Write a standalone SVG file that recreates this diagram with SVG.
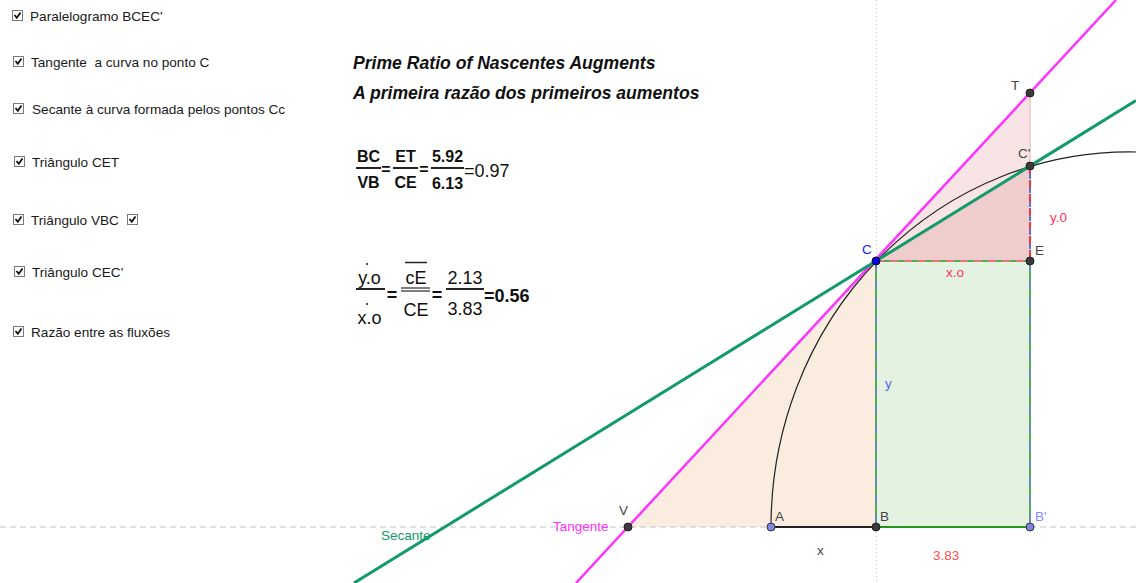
<svg xmlns="http://www.w3.org/2000/svg" width="1136" height="583" viewBox="0 0 1136 583">
<style>
.ui{font-family:"Liberation Sans",Arial,sans-serif;font-size:13.6px;fill:#1a1a1a;white-space:pre}
.cb{fill:#fff;stroke:#7a7a7a;stroke-width:1}
.ck{fill:none;stroke:#111;stroke-width:1.8}
.title{font-family:"Liberation Sans",Arial,sans-serif;font-size:17.6px;font-weight:bold;font-style:italic;fill:#111}
.fb{font-family:"Liberation Sans",Arial,sans-serif;font-size:16px;font-weight:bold;fill:#111}
.f2{font-family:"Liberation Sans",Arial,sans-serif;font-size:18px;fill:#111}
.lbl{font-family:"Liberation Sans",Arial,sans-serif;font-size:13.5px;fill:#444}
.pt{fill:#3a3a3a;stroke:#222;stroke-width:1}
.ptb{fill:#7b86e6;stroke:#333;stroke-width:1}
.bar{stroke:#222;stroke-width:2}
</style>
<rect width="1136" height="583" fill="#fff"/>

<!-- checkboxes -->
<g id="cb1"><rect class="cb" x="12.5" y="10.5" width="10" height="10"/><path class="ck" d="M14.5 15 L16.8 17.8 L20.5 12.5"/><text class="ui" x="30" y="21">Paralelogramo BCEC'</text></g>
<g id="cb2"><rect class="cb" x="13.5" y="56.5" width="10" height="10"/><path class="ck" d="M15.5 61 L17.8 63.8 L21.5 58.5"/><text class="ui" x="31" y="67" xml:space="preserve">Tangente  a curva no ponto C</text></g>
<g id="cb3"><rect class="cb" x="13.5" y="103.5" width="10" height="10"/><path class="ck" d="M15.5 108 L17.8 110.8 L21.5 105.5"/><text class="ui" x="32" y="114">Secante à curva formada pelos pontos Cc</text></g>
<g id="cb4"><rect class="cb" x="14.5" y="156.5" width="10" height="10"/><path class="ck" d="M16.5 161 L18.8 163.8 L22.5 158.5"/><text class="ui" x="32" y="167">Triângulo CET</text></g>
<g id="cb5"><rect class="cb" x="13.5" y="214.5" width="10" height="10"/><path class="ck" d="M15.5 219 L17.8 221.8 L21.5 216.5"/><text class="ui" x="31" y="225">Triângulo VBC</text>
<rect class="cb" x="127.5" y="214.5" width="10" height="10"/><path class="ck" d="M129.5 219 L131.8 221.8 L135.5 216.5"/></g>
<g id="cb6"><rect class="cb" x="14.5" y="266.5" width="10" height="10"/><path class="ck" d="M16.5 271 L18.8 273.8 L22.5 268.5"/><text class="ui" x="32" y="277">Triângulo CEC'</text></g>
<g id="cb7"><rect class="cb" x="13.5" y="326.5" width="10" height="10"/><path class="ck" d="M15.5 331 L17.8 333.8 L21.5 328.5"/><text class="ui" x="31" y="337">Razão entre as fluxões</text></g>

<!-- titles -->
<g id="titles">
<text class="title" x="353" y="69">Prime Ratio of Nascentes Augments</text>
<text class="title" x="353" y="99">A primeira razão dos primeiros aumentos</text>
</g>

<!-- formula 1 -->
<g id="formula1">
<text class="fb" x="368.5" y="162" text-anchor="middle">BC</text>
<line class="bar" x1="356" y1="168" x2="381" y2="168"/>
<text class="fb" x="368.5" y="188" text-anchor="middle">VB</text>
<text class="fb" x="386" y="175" text-anchor="middle">=</text>
<text class="fb" x="405.5" y="162" text-anchor="middle">ET</text>
<line class="bar" x1="393" y1="168" x2="418" y2="168"/>
<text class="fb" x="405.5" y="188" text-anchor="middle">CE</text>
<text class="fb" x="424" y="175" text-anchor="middle">=</text>
<text class="fb" x="447.5" y="162" text-anchor="middle">5.92</text>
<line class="bar" x1="431" y1="168" x2="464" y2="168"/>
<text class="fb" x="447.5" y="189" text-anchor="middle">6.13</text>
<text class="f2" x="464" y="177" font-size="19.5">=0.97</text>
</g>

<!-- formula 2 -->
<g id="formula2">
<circle cx="367" cy="264" r="1" fill="#111"/>
<text class="f2" x="369.5" y="284" text-anchor="middle">y.o</text>
<line class="bar" x1="356" y1="289" x2="385" y2="289"/>
<circle cx="367" cy="304" r="1" fill="#111"/>
<text class="f2" x="369.5" y="324" text-anchor="middle">x.o</text>
<text class="f2" x="392" y="301" text-anchor="middle" font-weight="bold" font-size="20">=</text>
<line x1="405" y1="262.5" x2="427" y2="262.5" stroke="#222" stroke-width="1.5"/>
<text class="f2" x="416" y="284" text-anchor="middle">cE</text>
<line x1="401" y1="288" x2="430" y2="288" stroke="#555" stroke-width="1.5"/>
<line x1="401" y1="291" x2="430" y2="291" stroke="#555" stroke-width="1.5"/>
<text class="f2" x="416" y="316" text-anchor="middle">CE</text>
<text class="f2" x="437" y="301" text-anchor="middle" font-weight="bold" font-size="20">=</text>
<text class="f2" x="465" y="284" text-anchor="middle">2.13</text>
<line class="bar" x1="446" y1="289" x2="484" y2="289"/>
<text class="f2" x="465" y="315" text-anchor="middle">3.83</text>
<text class="f2" x="484" y="302" font-weight="bold" font-size="22">=0.56</text>
</g>

<!-- fills -->
<g id="fills">
<polygon points="628,527 876,527 876,261" fill="#fbece0"/>
<rect x="876" y="261" width="154" height="266" fill="#e4f2e2"/>
<polygon points="876,261 1030,261 1030,93" fill="#f8e4e4"/>
<polygon points="876,261 1030,261 1030,166" fill="#f0cdcd"/>
</g>

<!-- axes -->
<g id="axes">
<line x1="0" y1="527" x2="1136" y2="527" stroke="#c4c4c4" stroke-width="1" stroke-dasharray="6,4"/>
<line x1="876.5" y1="0" x2="876.5" y2="583" stroke="#c4c4c4" stroke-width="1" stroke-dasharray="1,3"/>
</g>

<g id="connectors">
<line x1="1030" y1="93" x2="1030" y2="166" stroke="#f2c4c4" stroke-width="1.5"/>
<line x1="876" y1="261" x2="1030" y2="261" stroke="#1f9a1f" stroke-width="1.5"/>
<line x1="876" y1="261" x2="1030" y2="261" stroke="#e27a7a" stroke-width="2.2" stroke-dasharray="8,6"/>
<line x1="876" y1="261" x2="876" y2="527" stroke="#1f9a1f" stroke-width="1.5"/>
<line x1="876" y1="261" x2="876" y2="527" stroke="#6b7fd6" stroke-width="2" stroke-dasharray="10,8" stroke-opacity="0.7"/>
<line x1="1030" y1="261" x2="1030" y2="527" stroke="#1f9a1f" stroke-width="1.5"/>
<line x1="1030" y1="261" x2="1030" y2="527" stroke="#6b7fd6" stroke-width="2" stroke-dasharray="10,8" stroke-opacity="0.7"/>
<line x1="876" y1="527" x2="1030" y2="527" stroke="#1f9a1f" stroke-width="2"/>
<line x1="771" y1="527" x2="876" y2="527" stroke="#222" stroke-width="2"/>
<line x1="1030" y1="166" x2="1030" y2="261" stroke="#e53950" stroke-width="2" stroke-dasharray="8,6"/>
<line x1="1030" y1="166" x2="1030" y2="261" stroke="#5b6fe0" stroke-width="2" stroke-dasharray="5,9" stroke-dashoffset="-8"/>
<path d="M771 527 A358 375 0 0 1 1136 152" fill="none" stroke="#222" stroke-width="1.2"/>
<line x1="576" y1="583" x2="1116" y2="0" stroke="#ff33ff" stroke-width="2.5"/>
<line x1="354" y1="583" x2="1136" y2="100.6" stroke="#129a6a" stroke-width="3"/>
</g>

<!-- points -->
<g id="pT"><circle class="pt" cx="1030" cy="93" r="4"/><text class="lbl" x="1011" y="90">T</text></g>
<g id="pC2"><circle class="pt" cx="1030" cy="166" r="4"/><text class="lbl" x="1018" y="158">C'</text></g>
<g id="pE"><circle class="pt" cx="1030" cy="261" r="4"/><text class="lbl" x="1035" y="255">E</text></g>
<g id="pC"><circle cx="876" cy="261" r="4" fill="#0000ee" stroke="#111" stroke-width="1"/><text class="lbl" x="862" y="254" style="fill:#1a1aff">C</text></g>
<g id="pB"><circle class="pt" cx="876" cy="527" r="4"/><text class="lbl" x="880" y="521">B</text></g>
<g id="pA"><circle class="ptb" cx="771" cy="527" r="4"/><text class="lbl" x="775" y="521">A</text></g>
<g id="pB2"><circle class="ptb" cx="1030" cy="527" r="4"/><text class="lbl" x="1035" y="521" style="fill:#8a8aff">B'</text></g>
<g id="pV"><circle class="pt" cx="628" cy="527" r="4"/><text class="lbl" x="619" y="515">V</text></g>

<!-- other labels -->
<g id="labels">
<text class="lbl" x="1050" y="222" style="fill:#ff3355">y.0</text>
<text class="lbl" x="946" y="277" style="fill:#ff3355">x.o</text>
<text class="lbl" x="885" y="388" style="fill:#5566ee">y</text>
<text class="lbl" x="817" y="555">x</text>
<text class="lbl" x="933" y="560" style="fill:#ff4d4d">3.83</text>
<text class="lbl" x="381" y="540" style="fill:#129a6a">Secante</text>
<text class="lbl" x="553" y="531" style="fill:#ff33ff">Tangente</text>
</g>
</svg>
